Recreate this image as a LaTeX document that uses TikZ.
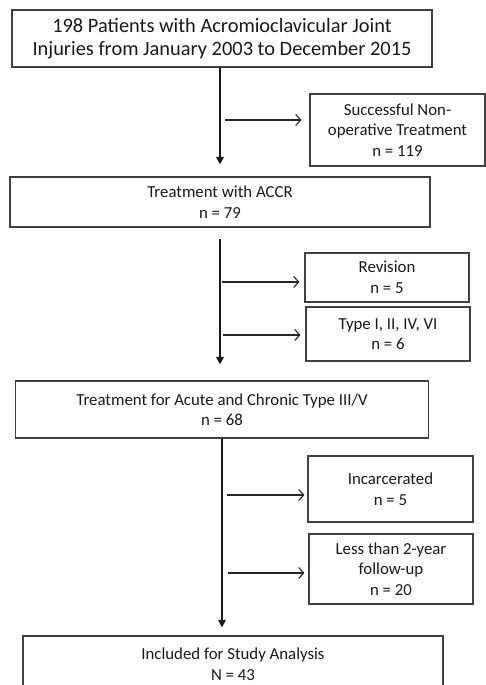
\documentclass[tikz,border=0pt]{standalone}
\usepackage{fontspec}
\setmainfont{Carlito}
\usetikzlibrary{arrows.meta}
\begin{document}
\begin{tikzpicture}[x=1pt,y=-1pt,
  box/.style={draw=black!75,line width=1.1pt,fill=white,align=center,inner sep=0pt,
    text=black!90,font=\fontsize{16.8}{20.5}\selectfont},
  titlebox/.style={box,font=\fontsize{20.4}{23.5}\selectfont},
  mainarrow/.style={line width=1.8pt,draw=black!90,-{Triangle[width=7.5pt,length=7.5pt]}},
  brarrow/.style={line width=1.1pt,draw=black!85,-{Straight Barb[length=5pt,width=11pt,line width=1.1pt]}}]
\clip (0,0) rectangle (486,685);
\fill[white] (0,0) rectangle (486,685);
% nodes
\node[titlebox,minimum width=420pt,minimum height=57pt] (b1) at (222,38.5)
  {198 Patients with Acromioclavicular Joint\\Injuries from January 2003 to December 2015};
\node[box,minimum width=175pt,minimum height=72pt] (succ) at (397.5,130)
  {Successful Non-\\operative Treatment\\n = 119};
\node[box,minimum width=420pt,minimum height=50pt] (b2) at (220,202)
  {Treatment with ACCR\\n = 79};
\node[box,minimum width=164pt,minimum height=49pt] (rev) at (387,277.5)
  {Revision\\n = 5};
\node[box,minimum width=164pt,minimum height=54pt] (typ) at (388,334)
  {Type I, II, IV, VI\\n = 6};
\node[box,minimum width=413pt,minimum height=57pt] (b3) at (222,409.5)
  {Treatment for Acute and Chronic Type III/V\\n = 68};
\node[box,minimum width=165pt,minimum height=66pt] (inc) at (390.5,489)
  {Incarcerated\\n = 5};
\node[box,minimum width=164pt,minimum height=70pt] (less) at (391,569)
  {Less than 2-year\\follow-up\\n = 20};
\node[box,minimum width=420pt,minimum height=56pt] (b4) at (233,664)
  {Included for Study Analysis\\N = 43};
% main arrows
\draw[mainarrow,shorten >=12pt] (b1.south -| 220,0) -- (b2.north -| 220,0);
\draw[mainarrow,shorten <=11pt,shorten >=16pt] (b2.south) -- (b2.south |- b3.north);
\draw[mainarrow,shorten >=8pt] (b3.south) -- (b3.south |- b4.north);
% branch arrows
\coordinate (j1) at (225,120);
\coordinate (j2) at (222,282);
\coordinate (j3) at (223,335);
\coordinate (j4) at (227,495);
\coordinate (j5) at (228,573);
\draw[brarrow,shorten >=8pt] (j1) -- (j1 -| succ.west);
\draw[brarrow,shorten >=5pt] (j2) -- (j2 -| rev.west);
\draw[brarrow,shorten >=5pt] (j3) -- (j3 -| typ.west);
\draw[brarrow,shorten >=3pt] (j4) -- (j4 -| inc.west);
\draw[brarrow,shorten >=4pt] (j5) -- (j5 -| less.west);
\end{tikzpicture}
\end{document}
